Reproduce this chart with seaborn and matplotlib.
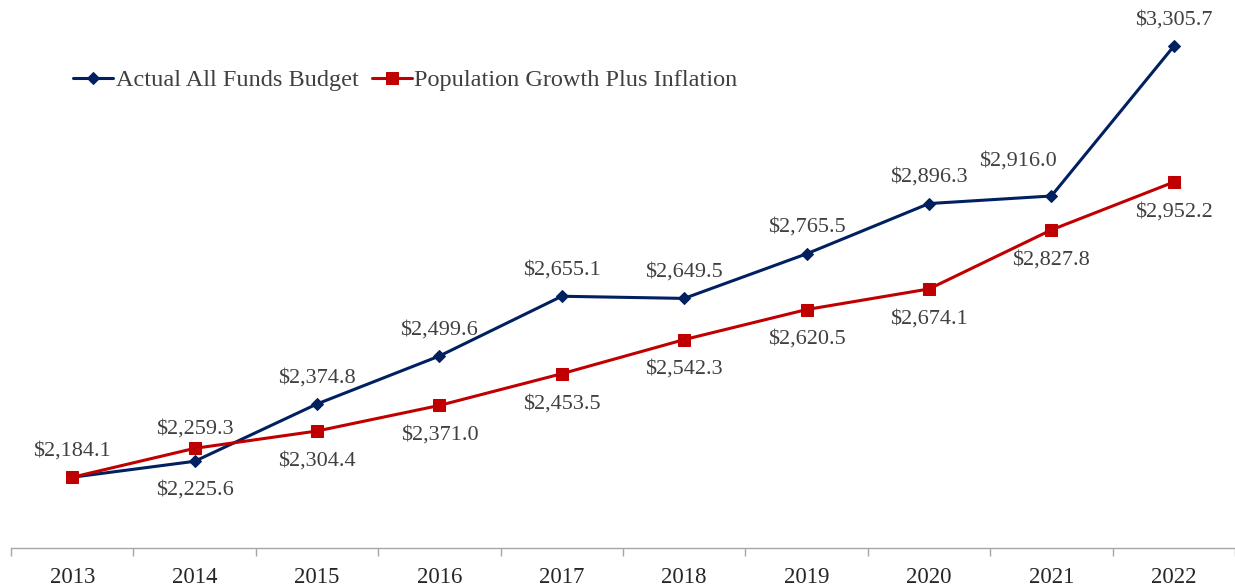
import matplotlib
matplotlib.use("Agg")
import matplotlib.pyplot as plt
import seaborn as sb
import pandas as pd
import numpy as np

years = ["2013", "2014", "2015", "2016", "2017", "2018", "2019", "2020", "2021", "2022"]
actual = [2184.1, 2225.6, 2374.8, 2499.6, 2655.1, 2649.5, 2765.5, 2896.3, 2916.0, 3305.7]
pop_infl = [2184.1, 2259.3, 2304.4, 2371.0, 2453.5, 2542.3, 2620.5, 2674.1, 2827.8, 2952.2]

# label side for each point: +1 above, -1 below, 0 none
actual_side = [1, -1, 1, 1, 1, 1, 1, 1, 1, 1]
pop_side = [0, 1, -1, -1, -1, -1, -1, -1, -1, -1]

sb.set_style("white")
plt.rcParams['font.family'] = ['Liberation Serif', 'DejaVu Serif']

df = pd.DataFrame({'pos': np.arange(len(years)), 'actual': actual, 'pop': pop_infl})

fig = plt.figure(figsize=(12.35, 5.88), dpi=100)
ax = fig.add_axes([11 / 1235, 40 / 588, 1 - 11 / 1235, 548 / 588])

blue = "#002060"
red = "#C00000"
txt = "#404040"

sb.lineplot(data=df, x='pos', y='actual', ax=ax, color=blue, lw=2.2, marker='D',
            markersize=6.5, markeredgecolor=blue, label='Actual All Funds Budget')
sb.lineplot(data=df, x='pos', y='pop', ax=ax, color=red, lw=2.2, marker='s',
            markersize=9, markeredgecolor=red, label='Population Growth Plus Inflation')

for i, v in enumerate(actual):
    s = actual_side[i]
    if s == 0:
        continue
    dx, dy = 0, (19 if s > 0 else -21)
    if i == 8:
        # 2021 label was nudged left/up in the original so it clears the line
        dx, dy = -24, 25
    ax.annotate("${:,.1f}".format(v), (i, v), xytext=(dx, dy), textcoords='offset points',
                ha='center', va='center', fontsize=16, color=txt)
for i, v in enumerate(pop_infl):
    s = pop_side[i]
    if s != 0:
        off = 14 if s > 0 else -21.5
        ax.annotate("${:,.1f}".format(v), (i, v), xytext=(0, off), textcoords='offset points',
                    ha='center', va='center', fontsize=16, color=txt)

ax.set_xlim(-0.5, len(years) - 0.5)
ax.set_ylim(2000, 3426)
ax.set_xticks(np.arange(len(years)))
ax.set_xticklabels(years, fontsize=16.5, color="#262626")
ax.set_xticks(np.arange(len(years) + 1) - 0.5, minor=True)
ax.tick_params(axis='x', which='both', bottom=True)
ax.tick_params(axis='x', which='major', length=0, pad=13.5)
ax.tick_params(axis='x', which='minor', length=6, color="#A6A6A6", width=1, direction='out')
ax.set_yticks([])
ax.set_xlabel('')
ax.set_ylabel('')
for sp in ['top', 'right', 'left']:
    ax.spines[sp].set_visible(False)
ax.spines['bottom'].set_color("#A6A6A6")
ax.spines['bottom'].set_linewidth(1)

leg = ax.legend(loc='center left', bbox_to_anchor=((73 - 11) / 1224, 1 - 80 / 548), ncol=2,
                frameon=False, fontsize=17.5, handlelength=1.65, handletextpad=0.1,
                columnspacing=0.55, borderpad=0, borderaxespad=0, labelcolor=txt)

plt.savefig('out.png', dpi=100)
